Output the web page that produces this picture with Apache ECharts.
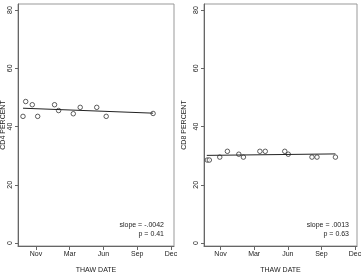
<!DOCTYPE html>
<html><head><meta charset="utf-8">
<script src="https://cdn.jsdelivr.net/npm/echarts@6/dist/echarts.min.js"></script>
<style>html,body{margin:0;padding:0;background:#fff}#c{width:362px;height:274px}</style>
</head><body><div id="c"></div>
<script>
// x values: days relative to first "Nov" tick
const xTickValues = [0, 100, 200, 300, 400];
const xTickLabels = ["Nov", "Mar", "Jun", "Sep", "Dec"];
const yTickValues = [0, 20, 40, 60, 80];

const cd4X = [-38.5, -30.5, -11, 5, 55, 67, 110.5, 131, 180, 208, 347];
const cd4Y = [43.5, 48.6, 47.5, 43.5, 47.5, 45.5, 44.4, 46.6, 46.6, 43.5, 44.5];
const cd4FitX = [-38.5, 347];
const cd4FitY = [46.3, 44.6];

const cd8X = [-39.4, -33.4, -2.4, 20.3, 54.3, 68, 117, 133, 191, 201.5, 272, 287, 341.8];
const cd8Y = [28.5, 28.5, 29.5, 31.5, 30.5, 29.5, 31.5, 31.5, 31.5, 30.5, 29.5, 29.5, 29.5];
const cd8FitX = [-41, 341.8];
const cd8FitY = [30.1, 30.6];

const panelNames = ["CD4 PERCENT", "CD8 PERCENT"];
const slopeTexts = ["slope = -.0042", "slope = .0013"];
const pTexts = ["p = 0.41", "p = 0.63"];

const zip = (a, b) => a.map((v, i) => [v, b[i]]);
const FONT = "Liberation Sans";
const TXT = "#222";
const LINE = "#666";

function xAxis(gi, min, max) {
  return {
    type: 'value', gridIndex: gi, min: min, max: max,
    name: 'THAW DATE', nameLocation: 'middle', nameGap: 21,
    nameTextStyle: {fontFamily: FONT, fontSize: 7, color: TXT},
    splitLine: {show: false},
    axisLine: {show: true, onZero: false, lineStyle: {color: LINE, width: 1}},
    axisTick: {show: true, length: 4, customValues: xTickValues, lineStyle: {color: LINE}},
    axisLabel: {customValues: xTickValues, margin: 5, fontFamily: FONT, fontSize: 7, color: TXT,
      formatter: v => xTickLabels[xTickValues.indexOf(v)]}
  };
}
function yAxis(gi, gap) {
  return {
    type: 'value', gridIndex: gi, min: -1.03, max: 82.1,
    name: panelNames[gi], nameLocation: 'middle', nameGap: gap, nameRotate: 90,
    nameTextStyle: {fontFamily: FONT, fontSize: 7, color: TXT},
    splitLine: {show: false},
    axisLine: {show: true, onZero: false, lineStyle: {color: LINE, width: 1}},
    axisTick: {show: true, length: 3, customValues: yTickValues, lineStyle: {color: LINE}},
    axisLabel: {customValues: yTickValues, rotate: 90, margin: 4, fontFamily: FONT, fontSize: 7, color: TXT}
  };
}
const scatterStyle = {color: '#fff', borderColor: '#222', borderWidth: 0.9};
const chart = echarts.init(document.getElementById('c'), null, {renderer: 'canvas'});
chart.setOption({
  animation: false,
  backgroundColor: '#fff',
  grid: [
    {left: 18, right: 188, top: 4, bottom: 28, show: true, borderColor: '#999', borderWidth: 1, containLabel: false, outerBoundsMode: 'none'},
    {left: 204, right: 5, top: 4, bottom: 28, show: true, borderColor: '#999', borderWidth: 1, containLabel: false, outerBoundsMode: 'none'}
  ],
  xAxis: [xAxis(0, -53.3, 408.9), xAxis(1, -49.3, 406)],
  yAxis: [yAxis(0, 10), yAxis(1, 16)],
  series: [
    {type: 'scatter', xAxisIndex: 0, yAxisIndex: 0, data: zip(cd4X, cd4Y), symbol: 'circle', symbolSize: 4.5, itemStyle: scatterStyle},
    {type: 'line', xAxisIndex: 0, yAxisIndex: 0, data: zip(cd4FitX, cd4FitY), symbol: 'none', lineStyle: {color: '#222', width: 1}},
    {type: 'scatter', xAxisIndex: 1, yAxisIndex: 1, data: zip(cd8X, cd8Y), symbol: 'circle', symbolSize: 4.5, itemStyle: scatterStyle},
    {type: 'line', xAxisIndex: 1, yAxisIndex: 1, data: zip(cd8FitX, cd8FitY), symbol: 'none', lineStyle: {color: '#222', width: 1}}
  ],
  graphic: [
    {type: 'text', right: 362 - 164, top: 222, style: {text: slopeTexts[0], fontFamily: FONT, fontSize: 7, fill: TXT, align: 'right'}},
    {type: 'text', right: 362 - 164, top: 231, style: {text: pTexts[0], fontFamily: FONT, fontSize: 7, fill: TXT, align: 'right'}},
    {type: 'text', right: 362 - 349, top: 222, style: {text: slopeTexts[1], fontFamily: FONT, fontSize: 7, fill: TXT, align: 'right'}},
    {type: 'text', right: 362 - 349, top: 231, style: {text: pTexts[1], fontFamily: FONT, fontSize: 7, fill: TXT, align: 'right'}}
  ]
});
</script></body></html>
